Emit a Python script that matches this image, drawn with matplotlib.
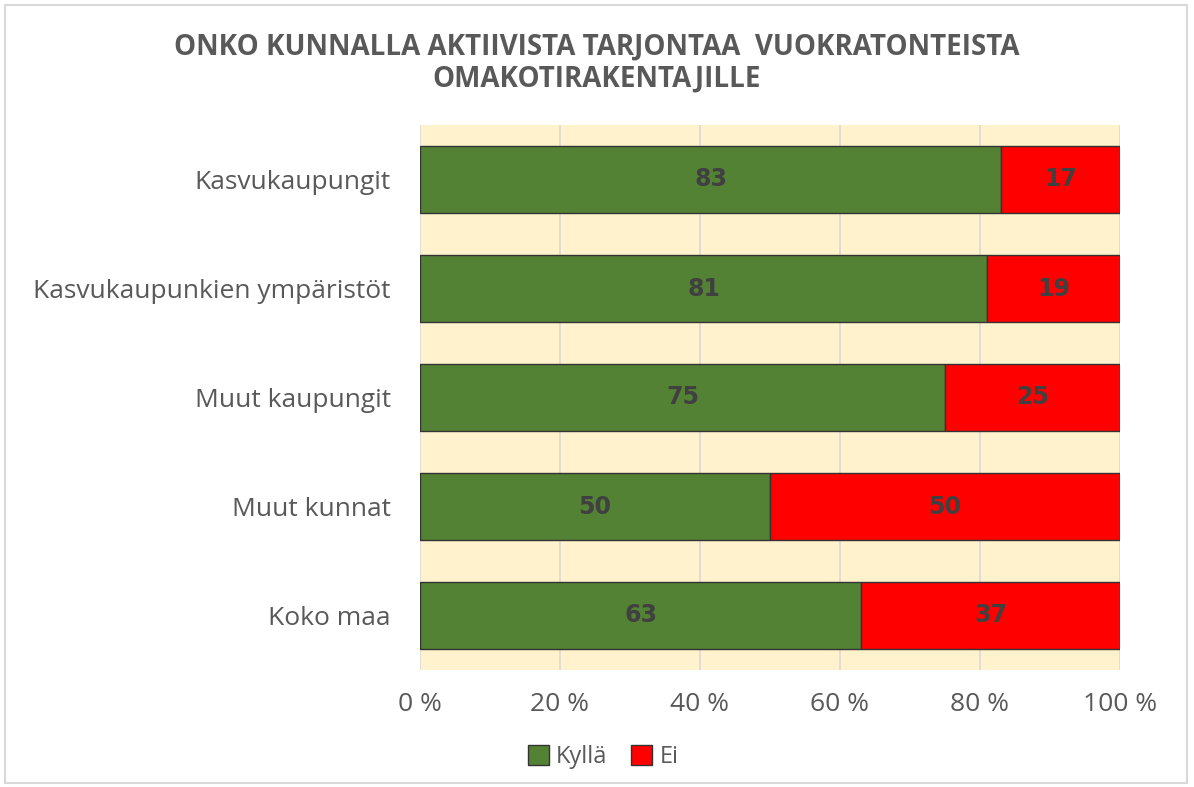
import matplotlib.pyplot as plt
import matplotlib
from matplotlib.patches import Rectangle
from matplotlib.ticker import FuncFormatter

matplotlib.rcParams['font.family'] = ['Open Sans', 'DejaVu Sans']

categories = ['Kasvukaupungit', 'Kasvukaupunkien ympäristöt', 'Muut kaupungit',
              'Muut kunnat', 'Koko maa']
kylla = [83, 81, 75, 50, 63]
ei = [17, 19, 25, 50, 37]
series_names = ['Kyllä', 'Ei']
title = 'ONKO KUNNALLA AKTIIVISTA TARJONTAA  VUOKRATONTEISTA\nOMAKOTIRAKENTAJILLE'

green = '#548235'
red = '#FF0000'
text_grey = '#595959'

fig = plt.figure(figsize=(11.94, 7.87), dpi=100)
ax = fig.add_axes([420 / 1194, 1 - 670 / 787, 700 / 1194, 545 / 787])
ax.set_facecolor('#FFF2CC')

ypos = list(range(len(categories)))
b1 = ax.barh(ypos, kylla, height=0.62, color=green, edgecolor='#333333',
             linewidth=1.0, label=series_names[0], zorder=3)
b2 = ax.barh(ypos, ei, left=kylla, height=0.62, color=red, edgecolor='#333333',
             linewidth=1.0, label=series_names[1], zorder=3)

for bars, vals in ((b1, kylla), (b2, ei)):
    for rect, v in zip(bars, vals):
        ax.text(rect.get_x() + rect.get_width() / 2, rect.get_y() + rect.get_height() / 2,
                str(v), ha='center', va='center', fontsize=17, fontweight='bold',
                color='#404040', family='DejaVu Sans', zorder=4)

ax.set_xlim(0, 100)
ax.set_ylim(len(categories) - 0.5, -0.5)
ax.set_yticks(ypos)
ax.set_yticklabels(categories, fontsize=19, color=text_grey)
ax.set_xticks(range(0, 101, 20))
ax.xaxis.set_major_formatter(FuncFormatter(lambda v, p: f'{int(v)} %'))
ax.tick_params(axis='x', labelsize=19, colors=text_grey, length=0, pad=16)
ax.tick_params(axis='y', length=0, pad=21)
ax.grid(axis='x', color='#D9D9D9', linewidth=1.2, zorder=0)
for s in ax.spines.values():
    s.set_visible(False)

fig.text(0.5, 1 - 63 / 787, title, ha='center', va='center', fontsize=20,
         fontweight='bold', color=text_grey, linespacing=1.15)

fig.legend(loc='center', bbox_to_anchor=(0.505, 1 - 757 / 787), ncol=2, frameon=False,
           fontsize=17, handlelength=0.9, handleheight=0.9, handletextpad=0.3,
           columnspacing=1.0, labelcolor=text_grey)

fig.patches.append(Rectangle((5 / 1194, 4 / 787), 1182 / 1194, 778 / 787,
                             transform=fig.transFigure, fill=False,
                             edgecolor='#D9D9D9', linewidth=1.5))

plt.savefig('out.png', dpi=100)
